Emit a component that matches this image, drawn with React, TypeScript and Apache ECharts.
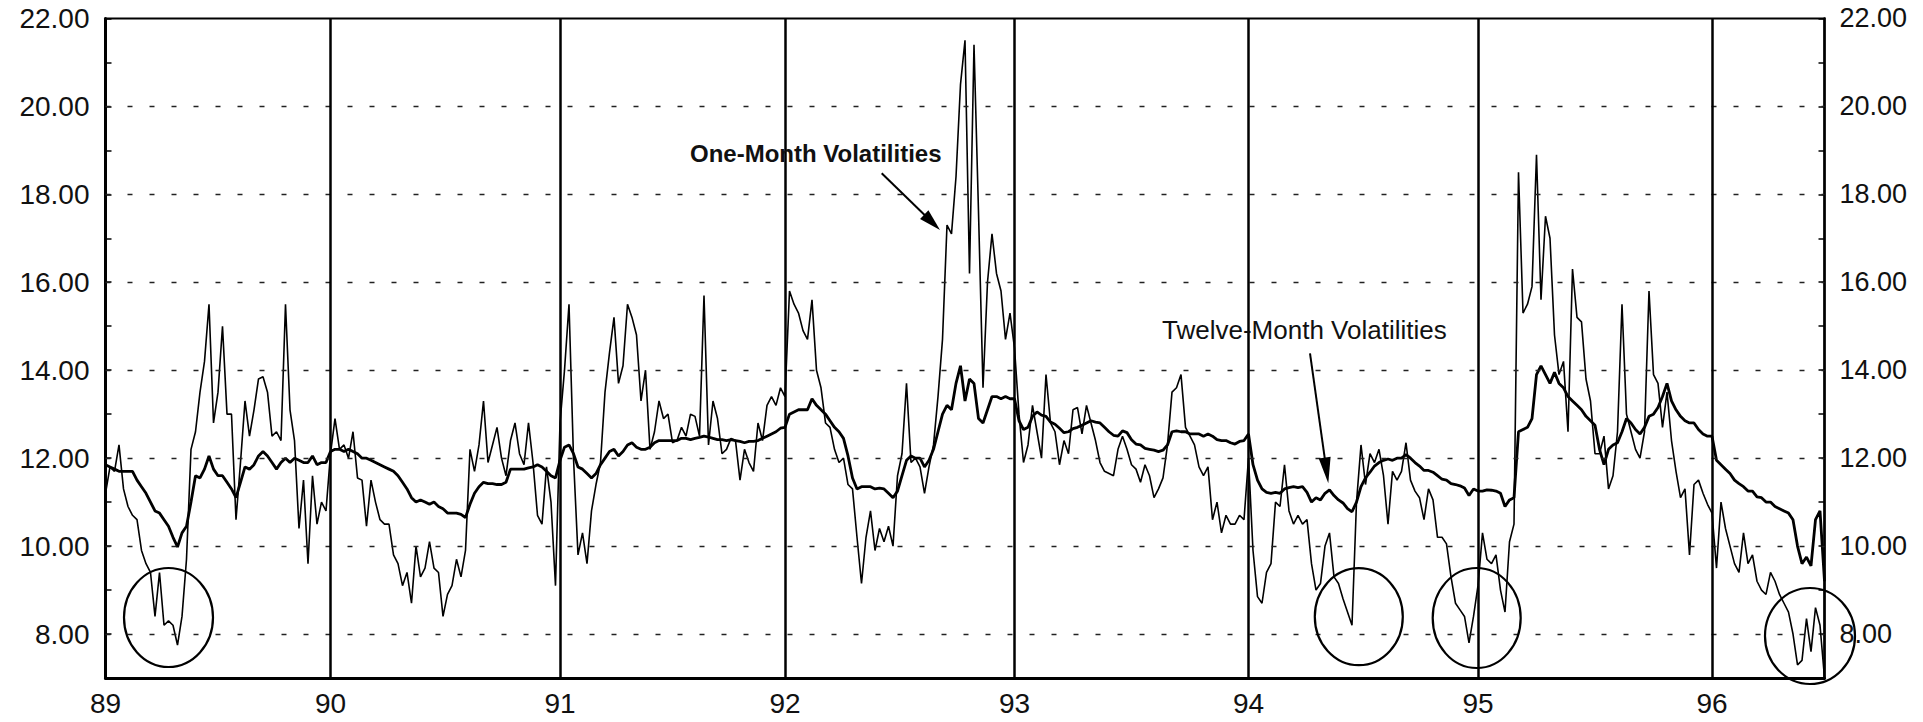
import { useEffect, useRef } from 'react';
import * as echarts from 'echarts';

const years = ['89', '90', '91', '92', '93', '94', '95', '96'];

const oneMonth89 = [11.2, 11.8, 11.7, 12.3, 11.3, 10.9, 10.7, 10.6, 9.9, 9.6,
  9.4, 8.4, 9.4, 8.2, 8.3, 8.2, 7.75, 8.4, 9.7, 12.2,
  12.6, 13.5, 14.2, 15.5, 12.8, 13.5, 15.0, 13.0, 13.0, 10.6,
  11.9, 13.3, 12.5, 13.1, 13.8, 13.85, 13.5, 12.5, 12.6, 12.4,
  15.5, 13.1, 12.4, 10.4, 11.5, 9.6, 11.6, 10.5, 11.0, 10.8];
const oneMonth90 = [12.1, 12.9, 12.2, 12.3, 12.0, 12.6, 11.55, 11.5, 10.45, 11.5,
  11.0, 10.6, 10.5, 10.5, 9.8, 9.6, 9.1, 9.4, 8.7, 10.0,
  9.3, 9.5, 10.1, 9.5, 9.4, 8.4, 8.9, 9.1, 9.7, 9.3,
  9.9, 12.2, 11.7, 12.3, 13.3, 11.9, 12.3, 12.7, 12.0, 11.6,
  12.4, 12.8, 12.1, 11.85, 12.8, 11.9, 10.7, 10.5, 11.8, 11.0,
  9.1];
const oneMonth91 = [12.8, 14.0, 15.5, 12.0, 9.8, 10.3, 9.6, 10.8, 11.4, 11.9,
  13.5, 14.4, 15.2, 13.7, 14.1, 15.5, 15.2, 14.8, 13.3, 14.0,
  12.2, 12.6, 13.3, 12.9, 13.0, 12.35, 12.4, 12.7, 12.5, 13.0,
  12.95, 12.5, 15.7, 12.3, 13.3, 12.9, 12.1, 12.2, 12.45, 12.4,
  11.5, 12.2, 11.9, 11.7, 12.8, 12.4, 13.2, 13.4, 13.2, 13.6];
const oneMonth92 = [13.4, 15.8, 15.5, 15.3, 14.9, 14.7, 15.6, 14.0, 13.6, 12.8,
  12.7, 12.2, 11.9, 12.0, 11.4, 11.3, 10.2, 9.15, 10.2, 10.8,
  9.9, 10.4, 10.1, 10.45, 10.0, 11.6, 12.1, 13.7, 11.9, 12.0,
  11.8, 11.2, 11.8, 12.3, 13.4, 14.7, 17.3, 17.1, 18.4, 20.5,
  21.5, 16.2, 21.4, 17.6, 13.6, 16.0, 17.1, 16.2, 15.8, 14.7,
  15.3];
const oneMonth93 = [14.5, 13.0, 11.9, 12.3, 13.2, 12.6, 12.0, 13.9, 12.8, 12.6,
  11.85, 12.4, 12.1, 13.1, 13.15, 12.55, 13.2, 12.8, 12.4, 11.9,
  11.7, 11.65, 11.6, 12.2, 12.5, 12.2, 11.85, 11.75, 11.45, 11.85,
  11.6, 11.1, 11.3, 11.55, 12.3, 13.5, 13.6, 13.9, 12.7, 12.5,
  12.3, 11.8, 11.6, 11.8, 10.6, 11.0, 10.3, 10.7, 10.5, 10.5,
  10.7, 10.6];
const oneMonth94 = [12.0, 9.9, 8.85, 8.7, 9.4, 9.6, 11.0, 10.9, 11.85, 10.8,
  10.5, 10.7, 10.5, 10.6, 9.6, 9.0, 9.15, 10.0, 10.3, 9.3,
  9.15, 8.8, 8.5, 8.2, 11.0, 12.3, 11.4, 12.1, 11.9, 12.2,
  11.6, 10.5, 11.7, 11.5, 11.7, 12.35, 11.5, 11.25, 11.1, 10.6,
  11.3, 11.05, 10.2, 10.2, 10.05, 9.3, 8.7, 8.55, 8.4, 7.8,
  8.4];
const oneMonth95 = [9.1, 10.3, 9.7, 9.6, 9.8, 9.0, 8.5, 10.1, 10.5, 18.5,
  15.3, 15.5, 15.9, 18.9, 15.6, 17.5, 17.0, 14.8, 13.9, 14.2,
  12.6, 16.3, 15.2, 15.1, 13.8, 13.3, 12.1, 12.1, 12.5, 11.3,
  11.6, 12.6, 15.5, 13.0, 12.6, 12.2, 12.0, 12.6, 15.8, 13.9,
  13.7, 12.7, 13.5, 12.4, 11.7, 11.1, 11.3, 9.8, 11.4, 11.5,
  11.2, 10.95];
const oneMonth96 = [10.75, 9.5, 11.0, 10.4, 10.0, 9.6, 9.4, 10.3, 9.6, 9.8,
  9.2, 9.0, 8.9, 9.4, 9.2, 8.9, 8.7, 8.5, 8.0, 7.3,
  7.4, 8.35, 7.6, 8.6, 8.2, 7.0];

const twelveMonth89 = [11.85, 11.8, 11.75, 11.7, 11.7, 11.7, 11.7, 11.5, 11.35, 11.2,
  11.0, 10.8, 10.75, 10.6, 10.45, 10.2, 9.98, 10.3, 10.45, 11.0,
  11.6, 11.55, 11.75, 12.05, 11.75, 11.6, 11.6, 11.45, 11.3, 11.1,
  11.45, 11.8, 11.75, 11.85, 12.05, 12.15, 12.05, 11.9, 11.75, 11.9,
  12.0, 11.9, 12.0, 11.95, 11.9, 11.9, 12.05, 11.85, 11.9, 11.9];
const twelveMonth90 = [12.15, 12.2, 12.2, 12.15, 12.2, 12.15, 12.1, 12.0, 12.0, 11.95,
  11.9, 11.85, 11.8, 11.75, 11.7, 11.6, 11.45, 11.3, 11.1, 11.0,
  11.05, 11.0, 10.95, 11.0, 10.9, 10.85, 10.75, 10.75, 10.75, 10.72,
  10.65, 10.95, 11.2, 11.35, 11.45, 11.42, 11.42, 11.4, 11.4, 11.45,
  11.75, 11.75, 11.75, 11.75, 11.78, 11.8, 11.85, 11.8, 11.7, 11.6,
  11.55];
const twelveMonth91 = [11.95, 12.25, 12.3, 12.1, 11.8, 11.75, 11.65, 11.55, 11.65, 11.85,
  12.0, 12.15, 12.2, 12.05, 12.15, 12.3, 12.35, 12.25, 12.2, 12.2,
  12.25, 12.35, 12.4, 12.4, 12.4, 12.4, 12.4, 12.45, 12.45, 12.42,
  12.45, 12.47, 12.5, 12.48, 12.45, 12.42, 12.42, 12.4, 12.42, 12.4,
  12.38, 12.35, 12.38, 12.38, 12.4, 12.45, 12.5, 12.55, 12.6, 12.68];
const twelveMonth92 = [12.7, 13.0, 13.05, 13.1, 13.1, 13.1, 13.35, 13.2, 13.1, 13.0,
  12.85, 12.7, 12.6, 12.45, 12.05, 11.55, 11.3, 11.35, 11.35, 11.35,
  11.3, 11.32, 11.3, 11.2, 11.1, 11.25, 11.6, 11.95, 12.05, 12.0,
  12.0, 11.8, 11.95, 12.2, 12.6, 13.0, 13.2, 13.1, 13.7, 14.1,
  13.3, 13.8, 13.7, 12.9, 12.8, 13.1, 13.4, 13.4, 13.35, 13.4,
  13.35];
const twelveMonth93 = [13.35, 12.85, 12.65, 12.7, 12.95, 13.05, 12.98, 12.95, 12.82, 12.77,
  12.68, 12.58, 12.6, 12.67, 12.7, 12.75, 12.8, 12.85, 12.82, 12.8,
  12.7, 12.6, 12.52, 12.5, 12.62, 12.58, 12.42, 12.32, 12.3, 12.22,
  12.2, 12.18, 12.15, 12.18, 12.3, 12.6, 12.62, 12.6, 12.6, 12.55,
  12.55, 12.55, 12.5, 12.55, 12.5, 12.42, 12.4, 12.4, 12.35, 12.32,
  12.38, 12.4];
const twelveMonth94 = [12.55, 11.85, 11.5, 11.3, 11.22, 11.2, 11.22, 11.2, 11.3, 11.33,
  11.35, 11.33, 11.35, 11.22, 11.0, 11.1, 11.05, 11.2, 11.28, 11.15,
  11.05, 10.98, 10.85, 10.78, 11.0, 11.35, 11.55, 11.68, 11.82, 11.9,
  11.95, 11.98, 11.95, 12.0, 12.0, 12.08, 12.0, 11.9, 11.82, 11.72,
  11.72, 11.68, 11.6, 11.52, 11.5, 11.42, 11.4, 11.37, 11.32, 11.15,
  11.3];
const twelveMonth95 = [11.25, 11.25, 11.28, 11.27, 11.25, 11.2, 10.9, 11.05, 11.1, 12.6,
  12.65, 12.7, 12.9, 13.9, 14.1, 13.9, 13.7, 13.95, 13.7, 13.6,
  13.4, 13.3, 13.2, 13.1, 12.95, 12.85, 12.75, 12.2, 11.85, 12.2,
  12.3, 12.35, 12.6, 12.9, 12.8, 12.65, 12.55, 12.7, 12.95, 13.0,
  13.15, 13.4, 13.7, 13.3, 13.1, 12.95, 12.85, 12.8, 12.8, 12.65,
  12.55, 12.5];
const twelveMonth96 = [12.5, 11.95, 11.85, 11.75, 11.65, 11.5, 11.42, 11.35, 11.25, 11.25,
  11.12, 11.1, 11.0, 11.0, 10.9, 10.85, 10.8, 10.75, 10.6, 10.0,
  9.6, 9.75, 9.55, 10.6, 10.8, 9.2];

const yLabelValues = [8, 10, 12, 14, 16, 18, 20, 22];
const yGridValues = [8, 10, 12, 14, 16, 18, 20];

const oneMonthByYear = [oneMonth89, oneMonth90, oneMonth91, oneMonth92, oneMonth93, oneMonth94, oneMonth95, oneMonth96];
const twelveMonthByYear = [twelveMonth89, twelveMonth90, twelveMonth91, twelveMonth92, twelveMonth93, twelveMonth94, twelveMonth95, twelveMonth96];

const categories: string[] = [];
const yearStartIndex: number[] = [];
years.forEach((y, k) => {
  yearStartIndex.push(categories.length);
  oneMonthByYear[k].forEach((_, i) => categories.push(`${y}-${i}`));
});
const oneMonth = oneMonthByYear.flat();
const twelveMonth = twelveMonthByYear.flat();
const yearStartSet = new Set(yearStartIndex);
const yLabelSet = new Set(yLabelValues);

const FONT = "'Liberation Sans', Arial, Helvetica, sans-serif";

function arrow(x1: number, y1: number, x2: number, y2: number, headLen: number, halfW: number) {
  const dx = x2 - x1;
  const dy = y2 - y1;
  const len = Math.sqrt(dx * dx + dy * dy);
  const ux = dx / len;
  const uy = dy / len;
  const bx = x2 - ux * headLen;
  const by = y2 - uy * headLen;
  const nx = -uy;
  const ny = ux;
  return [
    { type: 'line', z: 100, shape: { x1, y1, x2: bx + ux * 2, y2: by + uy * 2 }, style: { stroke: '#000', lineWidth: 2 } },
    {
      type: 'polygon', z: 100,
      shape: { points: [[x2, y2], [bx + nx * halfW, by + ny * halfW], [bx - nx * halfW, by - ny * halfW]] },
      style: { fill: '#000' },
    },
  ];
}

function ellipse(cx: number, cy: number, rx: number, ry: number) {
  return { type: 'ellipse', z: 100, shape: { cx, cy, rx, ry }, style: { fill: 'none', stroke: '#000', lineWidth: 2.2 } };
}

export default function App() {
  const ref = useRef<HTMLDivElement>(null);
  useEffect(() => {
    if (!ref.current) return;
    const chart = echarts.init(ref.current, null, { renderer: 'svg' });
    const yAxisCommon = {
      type: 'value',
      min: 7,
      max: 22,
      interval: 1,
      splitLine: { show: false },
      axisTick: { show: true, inside: true, length: 6, lineStyle: { color: '#000', width: 1.5 } },
    };
    const option: any = {
      animation: false,
      backgroundColor: '#ffffff',
      grid: {
        left: 105.5, right: 98.5, top: 18.4, bottom: 44,
        show: true, borderColor: '#000', borderWidth: 2, backgroundColor: 'transparent',
        containLabel: false, outerBoundsMode: 'none',
      },
      xAxis: {
        type: 'category',
        data: categories,
        boundaryGap: false,
        axisLine: { show: true, lineStyle: { color: '#000', width: 3 } },
        axisTick: { show: false },
        splitLine: { show: false },
        axisLabel: {
          interval: (index: number) => yearStartSet.has(index),
          formatter: (v: string) => v.split('-')[0],
          color: '#111',
          fontSize: 28,
          lineHeight: 28,
          fontFamily: FONT,
          margin: 11,
        },
      },
      yAxis: [
        {
          ...yAxisCommon,
          position: 'left',
          axisLine: { show: true, lineStyle: { color: '#000', width: 3 } },
          axisLabel: {
            formatter: (v: number) => (yLabelSet.has(v) ? v.toFixed(2) : ''),
            color: '#111', fontSize: 28, fontFamily: FONT, margin: 16,
          },
        },
        {
          ...yAxisCommon,
          position: 'right',
          axisLine: { show: true, lineStyle: { color: '#000', width: 2.5 } },
          axisLabel: {
            formatter: (v: number) => (yLabelSet.has(v) ? v.toFixed(2) : ''),
            color: '#111', fontSize: 27, fontFamily: FONT, margin: 15,
          },
        },
      ],
      series: [
        {
          type: 'line',
          data: twelveMonth,
          yAxisIndex: 0,
          symbol: 'none',
          showSymbol: false,
          silent: true,
          z: 1,
          lineStyle: { opacity: 0, width: 0 },
          markLine: {
            silent: true,
            symbol: ['none', 'none'],
            label: { show: false },
            animation: false,
            data: [
              ...yGridValues.map((v) => ({ yAxis: v, lineStyle: { type: [5, 17], width: 1.4, color: '#222' } })),
              ...yearStartIndex.slice(1).map((i) => ({ xAxis: categories[i], lineStyle: { type: 'solid', width: 2.5, color: '#000' } })),
            ],
          },
        },
        {
          name: 'Twelve-Month Volatilities',
          type: 'line',
          data: twelveMonth,
          yAxisIndex: 0,
          symbol: 'none',
          showSymbol: false,
          z: 3,
          lineStyle: { color: '#000', width: 2.8 },
        },
        {
          name: 'One-Month Volatilities',
          type: 'line',
          data: oneMonth,
          yAxisIndex: 0,
          symbol: 'none',
          showSymbol: false,
          z: 4,
          lineStyle: { color: '#000', width: 1.6 },
        },
      ],
      graphic: [
        {
          type: 'text', z: 100, x: 690, y: 153,
          style: {
            text: 'One-Month Volatilities', fill: '#111', fontSize: 24, fontWeight: 'bold', fontFamily: FONT,
            verticalAlign: 'middle', textVerticalAlign: 'middle',
          },
        },
        ...arrow(881.7, 173.3, 940, 230, 22, 6),
        {
          type: 'text', z: 100, x: 1162, y: 330,
          style: {
            text: 'Twelve-Month Volatilities', fill: '#111', fontSize: 26, fontFamily: FONT,
            verticalAlign: 'middle', textVerticalAlign: 'middle',
          },
        },
        ...arrow(1310, 353.3, 1328.3, 483.3, 26, 6),
        ellipse(168.5, 617.5, 44.5, 49.5),
        ellipse(1358.8, 616.7, 44, 48.5),
        ellipse(1476.7, 618, 44, 50),
        ellipse(1810, 636, 45, 48),
      ],
    };
    chart.setOption(option);
    return () => chart.dispose();
  }, []);
  return (
    <div
      ref={ref}
      style={{ position: 'absolute', left: 0, top: 0, width: '1923px', height: '722px', background: '#fff' }}
    />
  );
}
